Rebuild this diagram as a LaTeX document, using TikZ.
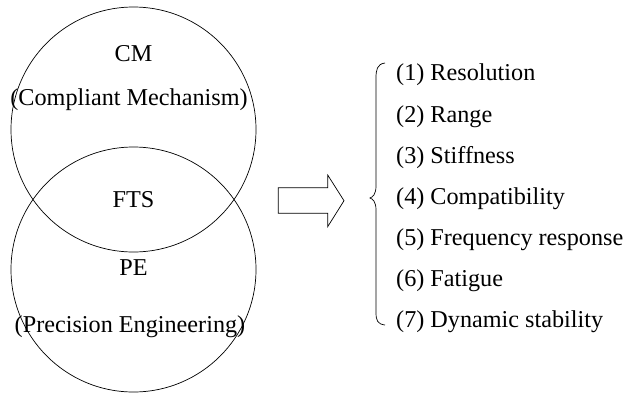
\documentclass[tikz,border=0pt]{standalone}
\usepackage{fontspec}
\setmainfont{Liberation Serif}
\begin{document}
\begin{tikzpicture}[x=1pt,y=-1pt,
  lbl/.style={inner sep=0pt,font=\fontsize{24.2}{28}\selectfont},
  item/.style={lbl,anchor=west},
  ring/.style={draw,circle,line width=0.7pt,minimum size=245pt,inner sep=0pt},
  thin/.style={draw,line width=0.7pt}]
\useasboundingbox (0,0) rectangle (629,394);
\node[ring] (cm) at (133.5,129.5) {};
\node[ring] (pe) at (133.5,269.5) {};
\node[lbl] (cmt) at (133.5,54) {CM};
\node[lbl] (cml) at (129,100) {(Compliant Mechanism)};
\node[lbl] (fts) at (133.5,200) {FTS};
\node[lbl] (pet) at (133.5,268) {PE};
\node[lbl] (pel) at (130,327) {(Precision Engineering)};
\path[thin,line join=miter] (278.3,187.7) -- (327.7,187.7) -- (327.7,175) -- (344,200.7)
  -- (327.7,226.7) -- (327.7,213.3) -- (278.3,213.3) -- cycle;
\path[thin] (385,63) .. controls (377,64) and (376,70) .. (376,78) -- (376,186)
  .. controls (376,194) and (373,197) .. (370,198)
  .. controls (373,199) and (376,202) .. (376,210) -- (376,312)
  .. controls (376,320) and (377,324) .. (385,325);
\node[item] (i1) at (396,75) {(1) Resolution};
\node[item] (i2) at (396,116.5) {(2) Range};
\node[item] (i3) at (396,158) {(3) Stiffness};
\node[item] (i4) at (396,199) {(4) Compatibility};
\node[item] (i5) at (396,240) {(5) Frequency response};
\node[item] (i6) at (396,281) {(6) Fatigue};
\node[item] (i7) at (396,322) {(7) Dynamic stability};
\end{tikzpicture}
\end{document}
